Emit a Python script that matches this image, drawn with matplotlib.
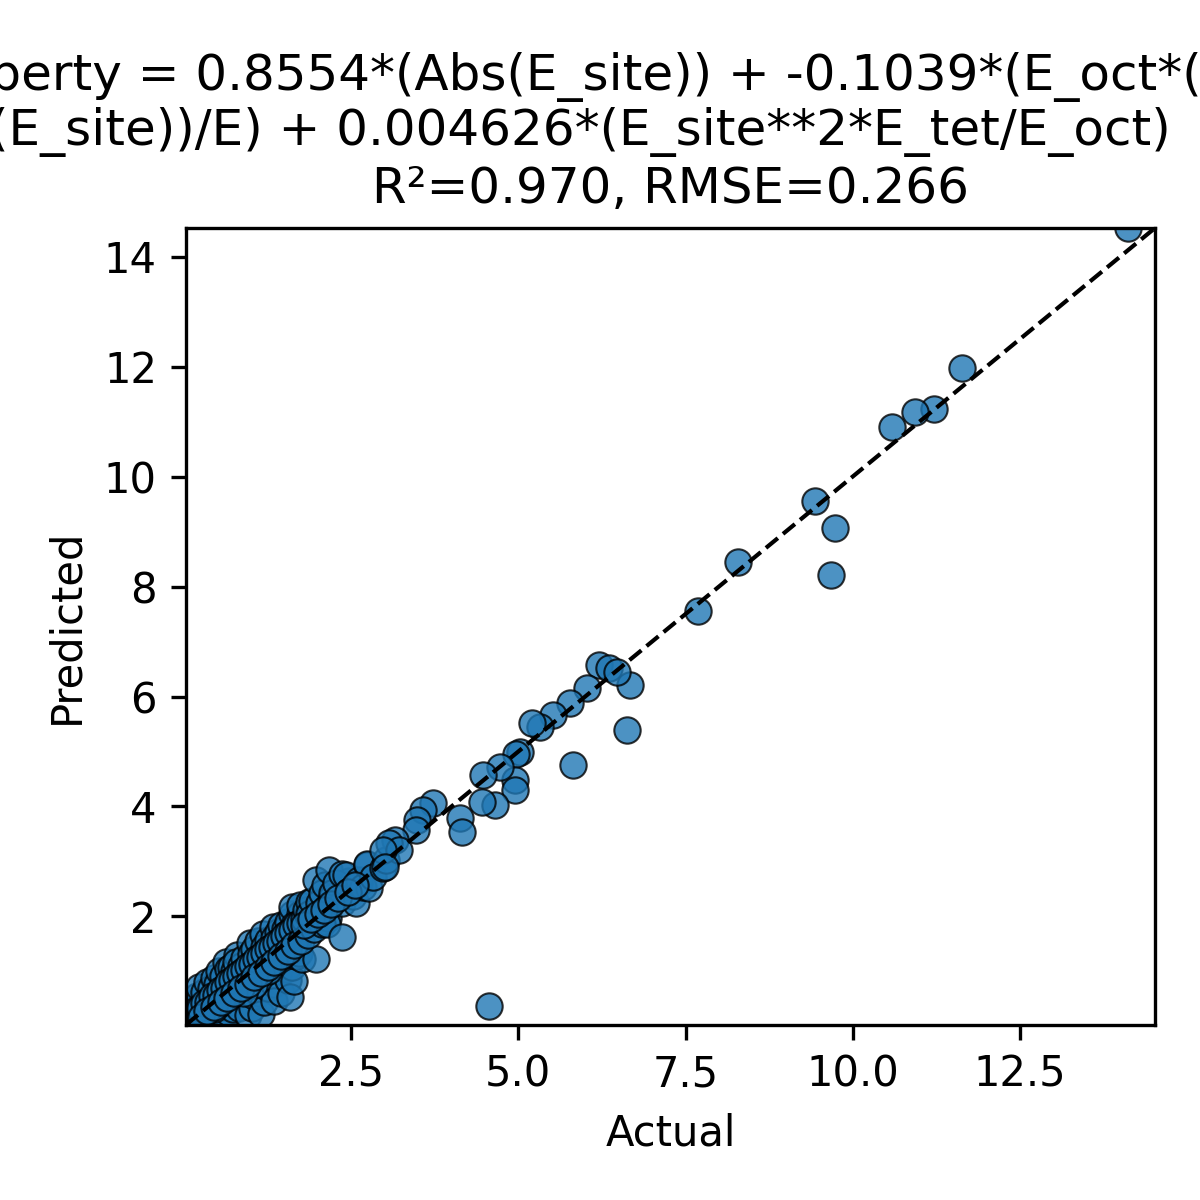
import numpy as np
import matplotlib
matplotlib.use("Agg")
import matplotlib.pyplot as plt

# Actual / predicted values
# low region (< 0.8)
act_low = [0.04, 0.06, 0.08, 0.10, 0.12, 0.14, 0.16, 0.18, 0.20, 0.22, 0.24, 0.26, 0.28, 0.29, 0.30,
           0.32, 0.34, 0.36, 0.38, 0.40, 0.42, 0.44, 0.46, 0.48, 0.50, 0.52, 0.55, 0.58, 0.60, 0.61,
           0.62, 0.63, 0.65, 0.68, 0.70, 0.72, 0.75, 0.78,
           0.10, 0.15, 0.20, 0.22, 0.30, 0.35, 0.40, 0.45, 0.50, 0.52, 0.58, 0.63, 0.66, 0.70, 0.75,
           0.80, 0.78,
           0.15, 0.22, 0.30, 0.35, 0.40, 0.45, 0.50, 0.55, 0.60, 0.62, 0.68, 0.70, 0.74, 0.78, 0.55, 0.45]
pred_low = [0.03, 0.09, 0.06, 0.12, 0.10, 0.17, 0.14, 0.20, 0.18, 0.25, 0.22, 0.29, 0.34, 0.33, 0.32,
            0.30, 0.38, 0.34, 0.42, 0.39, 0.46, 0.42, 0.50, 0.46, 0.54, 0.50, 0.58, 0.56, 0.66, 0.71,
            0.70, 0.72, 0.68, 0.74, 0.70, 0.78, 0.76, 0.82,
            0.30, 0.42, 0.55, 0.72, 0.62, 0.80, 0.70, 0.88, 0.78, 1.00, 0.92, 1.17, 1.05, 1.08, 1.00,
            1.30, 1.18,
            0.05, 0.08, 0.10, 0.16, 0.08, 0.22, 0.12, 0.28, 0.18, 0.36, 0.25, 0.45, 0.32, 0.55, 0.42, 0.32]

# mid region (0.8 - 1.8)
act_mid = [0.82, 0.86, 0.90, 0.94, 0.98, 1.00, 1.04, 1.08, 1.12, 1.16, 1.20, 1.25, 1.30, 1.35, 1.40,
           1.45, 1.50, 1.55, 1.60, 1.65, 1.70, 1.75,
           0.85, 0.90, 0.98, 1.00, 1.05, 1.10, 1.18, 1.20, 1.25, 1.33, 1.35, 1.40, 1.45, 1.51, 1.55,
           1.61, 1.62, 1.73, 1.73, 1.65,
           0.82, 0.82, 0.89, 0.95, 1.01, 1.05, 1.12, 1.14, 1.15, 1.20, 1.25, 1.34, 1.34, 1.39, 1.42,
           1.45, 1.52, 1.55, 1.59, 1.61, 1.64, 1.67, 1.70, 1.72, 1.77, 1.97, 1.25, 1.05, 0.90, 1.48,
           1.30, 1.52]
pred_mid = [0.84, 0.88, 0.89, 0.97, 1.00, 1.04, 1.05, 1.11, 1.12, 1.19, 1.22, 1.24, 1.33, 1.36, 1.42,
            1.44, 1.53, 1.56, 1.63, 1.64, 1.73, 1.78,
            1.10, 1.25, 1.51, 1.32, 1.40, 1.55, 1.69, 1.45, 1.58, 1.80, 1.60, 1.72, 1.85, 1.78, 1.90,
            2.05, 2.17, 2.05, 2.20, 1.85,
            0.34, 0.60, 0.83, 0.20, 0.34, 0.55, 0.60, 0.89, 0.22, 0.45, 0.70, 0.78, 0.47, 1.23, 1.00,
            0.60, 1.05, 0.85, 0.53, 1.08, 0.83, 1.29, 1.45, 1.33, 1.23, 1.23, 1.00, 0.75, 0.60, 1.30,
            1.15, 1.69]

# dense band hugging the diagonal (0.1 - 2.5)
act_band = [0.12, 0.18, 0.24, 0.30, 0.36, 0.42, 0.48, 0.54, 0.60, 0.66, 0.72, 0.78, 0.84, 0.90,
            0.96, 1.02, 1.08, 1.14, 1.20, 1.26, 1.32, 1.38, 1.44, 1.50, 1.56, 1.62, 1.68, 1.74,
            1.80, 1.86, 1.92, 1.98, 2.04, 2.10, 2.16, 2.22, 2.28, 2.34, 2.40, 2.46,
            0.25, 0.35, 0.45, 0.55, 0.65, 0.75, 0.85, 0.95, 1.05, 1.15, 1.25, 1.35, 1.45, 1.55,
            1.65, 1.75, 1.85, 1.95, 2.05, 2.15]
pred_band = [0.20, 0.30, 0.33, 0.42, 0.45, 0.55, 0.58, 0.66, 0.70, 0.80, 0.84, 0.92, 0.98, 1.02,
             1.10, 1.14, 1.22, 1.26, 1.33, 1.40, 1.44, 1.52, 1.56, 1.64, 1.70, 1.76, 1.84, 1.88,
             1.96, 2.02, 2.08, 2.15, 2.20, 2.28, 2.32, 2.40, 2.45, 2.52, 2.58, 2.65,
             0.18, 0.28, 0.36, 0.44, 0.52, 0.60, 0.70, 0.78, 0.90, 0.98, 1.08, 1.18, 1.28, 1.38,
             1.48, 1.56, 1.66, 1.78, 1.90, 1.98]

# upper part of the dense cloud (1.8 - 3.0)
act_high = [1.82, 1.87, 1.87, 1.92, 1.97, 2.02, 2.07, 2.07, 2.11, 2.14, 2.14, 2.17, 2.22, 2.22, 2.27,
            2.37, 2.37, 2.37, 2.42, 2.47, 2.52, 2.57, 2.62, 2.62, 2.67, 2.74, 2.74, 2.77, 2.82, 2.97,
            3.02, 1.80, 1.90, 2.00, 2.10, 2.20, 2.30, 2.45, 2.55]
pred_high = [2.11, 2.26, 2.05, 2.29, 2.66, 2.24, 2.42, 1.87, 2.57, 2.17, 1.87, 2.84, 2.35, 2.42, 2.60,
             2.78, 2.24, 1.62, 2.75, 2.47, 2.38, 2.24, 2.60, 2.66, 2.53, 2.93, 2.96, 2.51, 2.72, 2.88,
             3.02, 1.85, 1.95, 2.05, 2.12, 2.22, 2.33, 2.45, 2.58]

# sparse points (> 3)
act_sparse = [14.11, 11.64, 11.22, 10.93, 10.59, 9.44, 9.74, 9.68, 8.28, 7.68, 6.67, 6.62, 6.20, 6.35,
              6.47, 6.02, 5.77, 5.82, 5.52, 5.32, 5.20, 5.02, 4.96, 4.95, 4.95, 4.72, 4.47, 4.65, 4.45,
              4.56, 3.72, 3.57, 4.12, 4.15, 3.49, 3.47, 3.16, 3.07, 3.22, 2.97, 3.01]
pred_sparse = [14.52, 11.97, 11.22, 11.17, 10.90, 9.55, 9.07, 8.21, 8.45, 7.56, 6.21, 5.39, 6.58, 6.52,
               6.45, 6.16, 5.88, 4.75, 5.66, 5.45, 5.52, 5.00, 4.96, 4.48, 4.30, 4.72, 4.57, 4.02, 4.08,
               0.38, 4.06, 3.93, 3.79, 3.54, 3.75, 3.57, 3.39, 3.33, 3.20, 3.21, 2.90]

formula_line1 = "Property = 0.8554*(Abs(E_site)) + -0.1039*(E_oct*("
formula_line2 = "Abs(E_site))/E) + 0.004626*(E_site**2*E_tet/E_oct)"
score_line = "R\u00b2=0.970, RMSE=0.266"

actual = np.array(act_low + act_mid + act_band + act_high + act_sparse)
predicted = np.array(pred_low + pred_mid + pred_band + pred_high + pred_sparse)

fig = plt.figure(figsize=(4, 4), dpi=300)
ax = fig.add_axes([0.155, 0.146, 0.8075, 0.664])

ax.scatter(actual, predicted, s=40, alpha=0.8, color="#1f77b4", edgecolor="k", linewidth=0.5)

lims = [min(actual.min(), predicted.min()), max(actual.max(), predicted.max())]
ax.plot(lims, lims, "k--", linewidth=1)
ax.set_xlim(lims)
ax.set_ylim(lims)

ax.set_xlabel("Actual")
ax.set_ylabel("Predicted")

# last title line sits over the axes centre, the long formula lines run off the edges
ax.set_title(score_line)
ax.annotate(formula_line1 + "\n\n", xy=(0.382, 1.0), xycoords="axes fraction",
            xytext=(0, 6), textcoords="offset points", ha="center", va="baseline",
            fontsize="large", annotation_clip=False)
ax.annotate(formula_line2 + "\n", xy=(0.382, 1.0), xycoords="axes fraction",
            xytext=(-5.3, 6), textcoords="offset points", ha="center", va="baseline",
            fontsize="large", annotation_clip=False)

fig.savefig("out.png", dpi=300)
